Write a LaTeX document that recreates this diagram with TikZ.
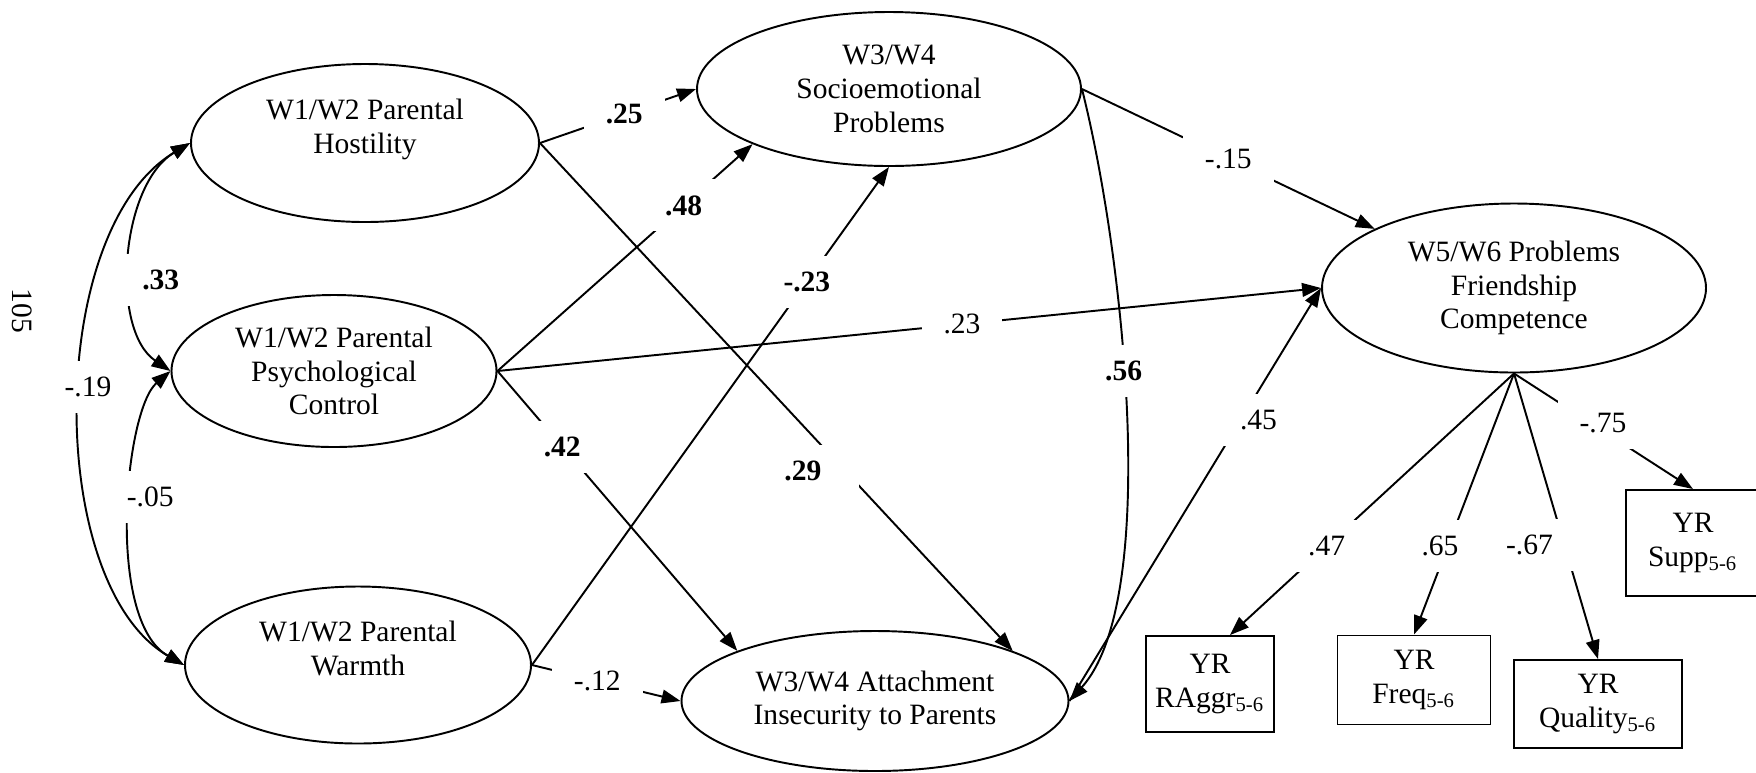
\documentclass[tikz,border=0pt]{standalone}
\usepackage{fontspec}
\setmainfont{Liberation Serif}
\usetikzlibrary{shapes.geometric}
\usetikzlibrary{arrows.meta}

\tikzset{
  latent/.style={ellipse, draw, inner sep=0pt, align=center},
  observed/.style={rectangle, draw, inner sep=0pt, align=center},
  lbl/.style={fill=white, inner xsep=2.2mm, inner ysep=1.6mm}
}

\begin{document}
\begin{tikzpicture}[>={Triangle[length=5.4pt,width=3.9pt]}, x=0.1mm, y=-0.1mm, line width=0.55pt, font=\fontsize{8.4}{9.6}\selectfont]
            \useasboundingbox (0,0) rectangle (1756,772);

            \node[rotate=-90] (pnum) at (22,311) {105};

            \node[latent, minimum width=34.8mm, minimum height=15.8mm] (host) at (365,143) {W1/W2 Parental\\Hostility\\~};
            \node[latent, minimum width=32.5mm, minimum height=15.2mm] (psych) at (334,371) {W1/W2 Parental\\Psychological\\Control};
            \node[latent, minimum width=34.6mm, minimum height=15.7mm] (warm) at (358,665) {W1/W2 Parental\\Warmth\\~};
            \node[latent, minimum width=38.4mm, minimum height=15.4mm] (socio) at (889,89) {W3/W4\\Socioemotional\\Problems};
            \node[latent, minimum width=38.7mm, minimum height=14mm] (attach) at (875,701) {W3/W4 Attachment\\Insecurity to Parents};
            \node[latent, minimum width=38.4mm, minimum height=16.9mm] (friend) at (1514,288) {W5/W6 Problems\\Friendship\\Competence};

            \node[observed, minimum width=12.8mm, minimum height=9.6mm] (raggr) at (1210,684) {YR\\RAggr\textsubscript{5-6}};
            \node[observed, minimum width=15.3mm, minimum height=8.9mm] (freq) at (1414,680) {YR\\Freq\textsubscript{5-6}};
            \node[observed, minimum width=16.8mm, minimum height=8.8mm] (quality) at (1598,704) {YR\\Quality\textsubscript{5-6}};
            \node[observed, minimum width=13.4mm, minimum height=10.6mm] (supp) at (1693,543) {YR\\Supp\textsubscript{5-6}};

            \draw[<->] (host.west) .. controls (45,230) and (45,585) .. (warm.west) node [lbl,pos=0.47,xshift=0.7mm] {-.19};
            \draw[<->] (host.west) .. controls (120,185) and (110,330) .. (psych.west) node [lbl,pos=0.58,xshift=3mm] {\textbf{.33}};
            \draw[<->] (psych.west) .. controls (125,410) and (105,620) .. (warm.west) node [lbl,pos=0.45,xshift=1.9mm] {-.05};

            \draw[->] (host.east) -- (socio.west) node [lbl,pos=0.54] {\textbf{.25}};
            \draw[->] (psych.east) -- (socio.202) node [lbl,pos=0.73] {\textbf{.48}};
            \draw[->] (warm.east) -- (socio.south) node [lbl,pos=0.77] {\textbf{-.23}};
            \draw[->] (host.east) -- (attach.20) node [lbl,pos=0.645,xshift=-4.2mm,inner xsep=3.8mm] {\textbf{.29}};
            \draw[->] (psych.east) -- (attach.160) node [lbl,pos=0.27] {\textbf{.42}};
            \draw[->] (warm.east) -- (attach.west) node [lbl,pos=0.44] {-.12};

            \draw[->] (psych.east) -- (friend.west) node [lbl,pos=0.564] {.23};
            \draw[->] (socio.east) -- (friend.157) node [lbl,midway] {-.15};
            \draw[->] (attach.east) -- (friend.west) node [lbl,pos=0.68,xshift=1.8mm] {.45};
            \draw[->] (socio.east) .. controls (1125,260) and (1160,600) .. (attach.east) node [lbl,pos=0.43] {\textbf{.56}};

            \draw[->] (friend.south) -- ([xshift=2mm]raggr.north) node [lbl,pos=0.66] {.47};
            \draw[->] (friend.south) -- (freq.north) node [lbl,pos=0.66,xshift=-0.8mm] {.65};
            \draw[->] (friend.south) -- (quality.north) node [lbl,pos=0.6,xshift=-3.5mm] {-.67};
            \draw[->] (friend.south) -- (supp.north) node [lbl,pos=0.43,xshift=1.2mm] {-.75};
\end{tikzpicture}
\end{document}
